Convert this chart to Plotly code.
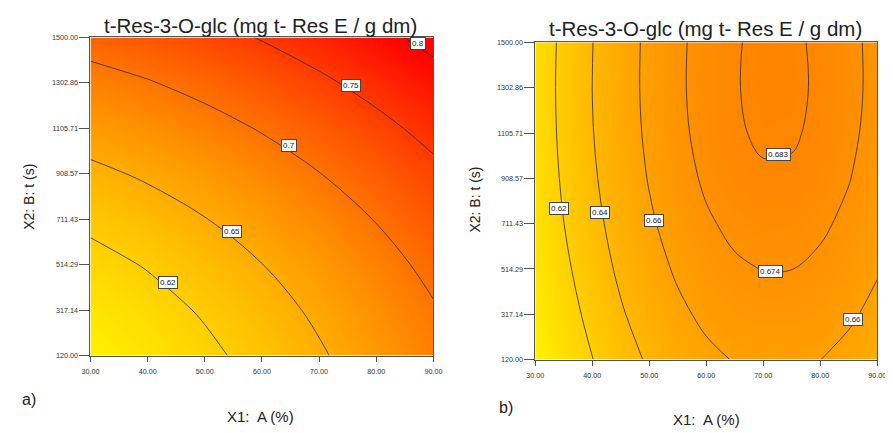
import plotly.graph_objects as go

# ---------------- data ----------------
x_a = [30, 40, 50, 60, 70, 80, 90]
y_ticks = [120 + k * 1380 / 7 for k in range(8)]   # 120.00 ... 1500.00
# panel a response grid (rows = y ticks from 120 to 1500, cols = x_a)
z_a = [
    [0.5908, 0.6012, 0.6140, 0.6291, 0.6465, 0.6663, 0.6884],
    [0.5996, 0.6100, 0.6228, 0.6379, 0.6553, 0.6751, 0.6972],
    [0.6113, 0.6217, 0.6345, 0.6496, 0.6670, 0.6868, 0.7089],
    [0.6259, 0.6363, 0.6491, 0.6642, 0.6816, 0.7014, 0.7235],
    [0.6435, 0.6539, 0.6667, 0.6818, 0.6992, 0.7190, 0.7411],
    [0.6640, 0.6744, 0.6872, 0.7023, 0.7197, 0.7395, 0.7616],
    [0.6874, 0.6978, 0.7106, 0.7257, 0.7431, 0.7629, 0.7850],
    [0.7138, 0.7242, 0.7370, 0.7521, 0.7695, 0.7893, 0.8114],
]
x_b = [30, 35, 40, 45, 50, 55, 60, 65, 70, 75, 80, 85, 90]
z_b = [
    [0.5883, 0.6050, 0.6196, 0.6320, 0.6424, 0.6506, 0.6567, 0.6607, 0.6626, 0.6624, 0.6601, 0.6557, 0.6491],
    [0.5943, 0.6111, 0.6257, 0.6382, 0.6486, 0.6569, 0.6631, 0.6671, 0.6690, 0.6688, 0.6665, 0.6622, 0.6560],
    [0.5992, 0.6160, 0.6308, 0.6433, 0.6538, 0.6621, 0.6683, 0.6724, 0.6743, 0.6741, 0.6717, 0.6675, 0.6612],
    [0.6029, 0.6199, 0.6347, 0.6474, 0.6579, 0.6663, 0.6725, 0.6766, 0.6785, 0.6783, 0.6759, 0.6714, 0.6650],
    [0.6056, 0.6227, 0.6376, 0.6503, 0.6609, 0.6693, 0.6758, 0.6802, 0.6822, 0.6820, 0.6795, 0.6745, 0.6678],
    [0.6072, 0.6244, 0.6394, 0.6522, 0.6628, 0.6713, 0.6778, 0.6822, 0.6840, 0.6838, 0.6815, 0.6765, 0.6698],
    [0.6078, 0.6250, 0.6401, 0.6529, 0.6636, 0.6721, 0.6785, 0.6826, 0.6846, 0.6844, 0.6820, 0.6774, 0.6706],
    [0.6072, 0.6245, 0.6397, 0.6526, 0.6634, 0.6719, 0.6783, 0.6825, 0.6844, 0.6842, 0.6818, 0.6772, 0.6704],
]
levels_a = [0.62, 0.65, 0.70, 0.75, 0.80]
levels_b = [0.62, 0.64, 0.66, 0.674, 0.683]

lab_a_text = ["0.62", "0.65", "0.7", "0.75", "0.8"]
lab_a_x = [43.5, 54.8, 64.7, 75.5, 87.3]
lab_a_y = [438, 658, 1033, 1293, 1475]
lab_b_text = ["0.62", "0.64", "0.66", "0.683", "0.674", "0.66"]
lab_b_x = [34.2, 41.3, 50.8, 72.6, 71.2, 85.7]
lab_b_y = [776, 760, 725, 1013, 502, 293]

x_ticks = [30, 40, 50, 60, 70, 80, 90]
title_text = "t-Res-3-O-glc (mg t- Res E / g dm)"
xtitle = "X1:  A (%)"
ytitle = "X2: B: t (s)"

# ---------------- style ----------------
W, H = 893, 433
OFF = 8          # page body margin of the browser
ZMIN, ZMAX = 0.59, 0.80
CS = [[0.0, "rgb(255,241,0)"], [0.5, "rgb(255,121,0)"], [1.0, "rgb(255,0,0)"]]
FONT = "Liberation Sans, Arial, sans-serif"

fig = go.Figure()


def add_panel(x, z, levels, xa, ya):
    fig.add_trace(go.Heatmap(x=x, y=y_ticks, z=z, zsmooth="best", colorscale=CS,
                             zmin=ZMIN, zmax=ZMAX, showscale=False, hoverinfo="skip",
                             xaxis=xa, yaxis=ya))
    for lv in levels:
        fig.add_trace(go.Contour(x=x, y=y_ticks, z=z, autocontour=False,
                                 contours=dict(start=lv, end=lv, size=0.001,
                                               coloring="none", showlabels=False),
                                 line=dict(color="#2a2a2a", width=0.8, smoothing=1.0),
                                 showscale=False, hoverinfo="skip",
                                 xaxis=xa, yaxis=ya))


add_panel(x_a, z_a, levels_a, "x", "y")
add_panel(x_b, z_b, levels_b, "x2", "y2")

px = lambda v: (v - OFF) / W
py = lambda v: 1 - (v - OFF) / H

axis_common = dict(showgrid=False, zeroline=False, showline=True, linecolor="#555",
                   linewidth=1, mirror=True, ticks="outside", tickcolor="#555",
                   tickfont=dict(size=7.2, color="#333", family=FONT))
xt = dict(tickvals=x_ticks, ticktext=[f"{v:.2f}" for v in x_ticks], ticklen=5,
          ticklabelstandoff=4)
yt = dict(tickvals=y_ticks, ticktext=[f"{v:.2f}" for v in y_ticks], ticklen=10)
fig.update_layout(
    width=W, height=H, margin=dict(l=0, r=0, t=0, b=0),
    paper_bgcolor="white", plot_bgcolor="white", showlegend=False,
    xaxis=dict(domain=[px(83), px(433)], range=[30, 90], anchor="y", **xt, **axis_common),
    yaxis=dict(domain=[py(359), py(34)], range=[120, 1500], anchor="x", **yt, **axis_common),
    xaxis2=dict(domain=[px(537), px(886)], range=[30, 90], anchor="y2", **xt, **axis_common),
    yaxis2=dict(domain=[py(363), py(39)], range=[120, 1500], anchor="x2", **yt, **axis_common),
)

ann = []
for t, x, y in zip(lab_a_text, lab_a_x, lab_a_y):
    ann.append(dict(text=t, x=x, y=y, xref="x", yref="y", showarrow=False,
                    bgcolor="white", bordercolor="#444", borderwidth=1, borderpad=1,
                    font=dict(size=8, color="#222", family=FONT)))
for t, x, y in zip(lab_b_text, lab_b_x, lab_b_y):
    ann.append(dict(text=t, x=x, y=y, xref="x2", yref="y2", showarrow=False,
                    bgcolor="white", bordercolor="#444", borderwidth=1, borderpad=1,
                    font=dict(size=8, color="#222", family=FONT)))


def paper_text(text, xp, yp, size, angle=0):
    ann.append(dict(text=text, x=px(xp), y=py(yp), xref="paper", yref="paper",
                    showarrow=False, textangle=angle, xanchor="center", yanchor="middle",
                    font=dict(size=size, color="#222", family=FONT)))


paper_text(title_text, 257, 22, 20.5)
paper_text(title_text, 711, 25, 20.5)
paper_text(ytitle, 20, 197, 14, -90)
paper_text(ytitle, 475, 200, 14, -90)
paper_text(xtitle, 257, 421, 15)
paper_text(xtitle, 712, 424, 15)
paper_text("a)", 20, 404, 16)
paper_text("b)", 507, 412, 16)

fig.update_layout(annotations=ann)
fig.write_html("out.html")
